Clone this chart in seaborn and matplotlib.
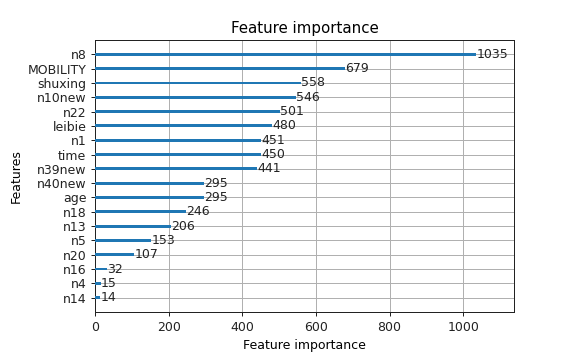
import matplotlib
matplotlib.use("Agg")
import matplotlib.pyplot as plt
import seaborn as sns
import pandas as pd

features = ["n8", "MOBILITY", "shuxing", "n10new", "n22", "leibie", "n1", "time",
            "n39new", "n40new", "age", "n18", "n13", "n5", "n20", "n16", "n4", "n14"]
importance = [1035, 679, 558, 546, 501, 480, 451, 450, 441, 295, 295, 246, 206,
              153, 107, 32, 15, 14]

df = pd.DataFrame({"feature": features, "importance": importance})

DPI = 90
plt.rcParams.update({"font.family": ["DejaVu Sans"], "font.size": 10})
fig = plt.figure(figsize=(587 / DPI, 364 / DPI), dpi=DPI)
ax = fig.add_axes([0.162, 0.143, 0.714, 0.747])

sns.barplot(data=df, x="importance", y="feature", orient="h", width=0.2,
            color="#1f77b4", saturation=1, ax=ax, zorder=3)

for i, v in enumerate(importance):
    ax.text(v + 1, i, str(v), va="center", fontsize=10, color="#222222", zorder=4)

ax.set_xlim(0, max(importance) * 1.1)
ax.set_ylim(len(features), -1)
ax.grid(True, color="#b0b0b0", linewidth=0.8, zorder=0)
ax.set_axisbelow(True)
ax.set_title("Feature importance", fontsize=12)
ax.set_xlabel("Feature importance", fontsize=10)
ax.set_ylabel("Features", fontsize=10)
ax.tick_params(labelsize=10, colors="#222222")
for s in ax.spines.values():
    s.set_color("#222222")
    s.set_linewidth(0.8)

fig.savefig("out.png", dpi=DPI)
